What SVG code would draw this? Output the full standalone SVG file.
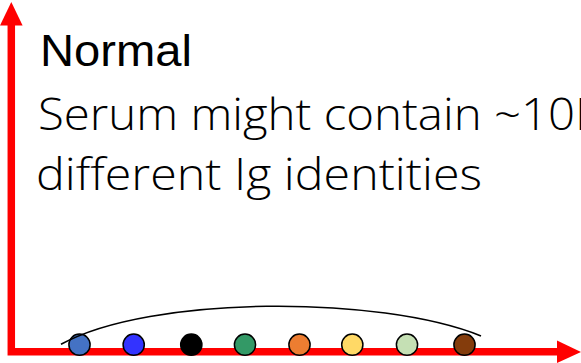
<svg xmlns="http://www.w3.org/2000/svg" width="581" height="363" viewBox="0 0 581 363">
<style>
.title{font-family:"Liberation Sans",Arial,sans-serif;font-size:45px;fill:#000}
.body{font-family:"Open Sans","Liberation Sans",Arial,sans-serif;font-weight:300;font-size:45px;fill:#000}
.axis{stroke:#FF0000;stroke-width:7.5;fill:none}
.head{fill:#FF0000}
.dot{stroke:#000;stroke-width:1.5}
</style>
<rect width="581" height="363" fill="#fff"/>
<g id="axes">
<path class="axis" d="M11.3,24 L11.3,351.7 L560,351.7"/>
<polygon class="head" points="11.3,2 0,25.5 22.6,25.5"/>
<polygon class="head" points="581,352 557,340.5 557,363"/>
</g>
<g id="labels">
<text class="title" x="40" y="66" textLength="152" lengthAdjust="spacingAndGlyphs">Normal</text>
<text class="body" x="38" y="129.5" textLength="578" lengthAdjust="spacingAndGlyphs">Serum might contain ~10M</text>
<text class="body" x="36" y="190" textLength="446" lengthAdjust="spacingAndGlyphs">different Ig identities</text>
</g>
<g id="n1"><circle class="dot" cx="79.5" cy="344.7" r="10.6" fill="#4472C4"/></g>
<g id="n2"><circle class="dot" cx="133.7" cy="344.7" r="10.6" fill="#3333FF"/></g>
<g id="n3"><circle class="dot" cx="191.3" cy="344.7" r="10.6" fill="#000000"/></g>
<g id="n4"><circle class="dot" cx="245" cy="344.7" r="10.6" fill="#339966"/></g>
<g id="n5"><circle class="dot" cx="299.5" cy="344.7" r="10.6" fill="#ED7D31"/></g>
<g id="n6"><circle class="dot" cx="352.3" cy="344.7" r="10.6" fill="#FFD966"/></g>
<g id="n7"><circle class="dot" cx="407" cy="344.7" r="10.6" fill="#C5E0B4"/></g>
<g id="n8"><circle class="dot" cx="464.5" cy="344.7" r="10.6" fill="#843C0C"/></g>
<g id="connectors">
<path d="M61,344.3 C150,295 380,295 481,336" fill="none" stroke="#000" stroke-width="1.6"/>
</g>
</svg>
